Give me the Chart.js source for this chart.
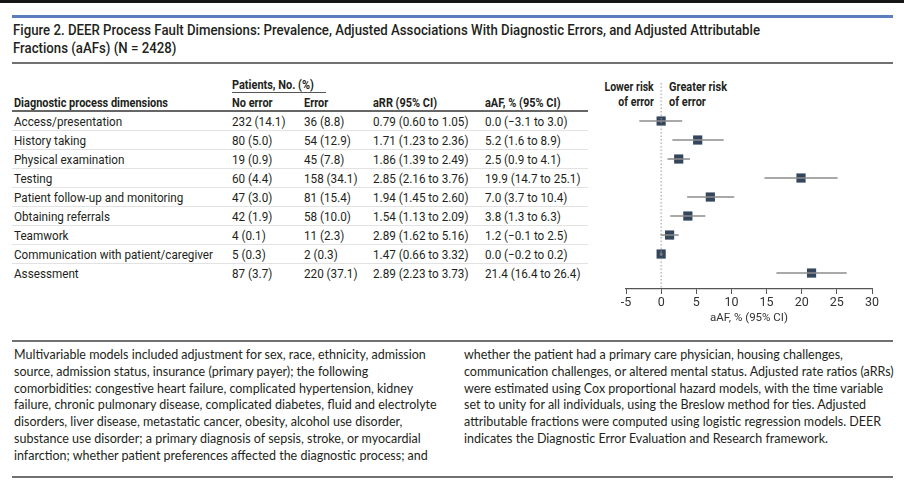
<!DOCTYPE html>
<html lang="en">
<head>
<meta charset="UTF-8">
<title>Figure 2 - DEER Process Fault Dimensions</title>
<script src="https://cdn.jsdelivr.net/npm/chart.js"></script>
<style>
  body { margin:0; width:904px; height:480px; position:relative; background:#fff; overflow:hidden;
         font-family:Roboto,'Liberation Sans',sans-serif; color:#231f20; }
  .abs { position:absolute; white-space:nowrap; }
  .topbar { left:0; top:0; width:904px; height:3px; background:#161616; }
  .rule-blue { left:12px; width:881px; top:15px; height:3px; background:#5b7fbd; }
  .rule { left:12px; width:881px; height:2px; background:#707070; }
  .title { left:13px; top:21px; font-size:15px; font-weight:500; line-height:18px; }
  .bold { font-weight:bold; }
  .tbl { font-size:13.5px; }
  .row { left:12px; width:576px; height:18px; line-height:19px; border-bottom:1px solid #e2e2e2; }
  .row span, .hdr span { position:absolute; top:0; }
  .risk { font-size:13px; font-weight:bold; line-height:15px; }
  .note { font-family:Lato,sans-serif; font-size:12.5px; line-height:16.8px; color:#231f20; }
  #plot { position:absolute; left:590px; top:70px; width:300px; height:260px; }
</style>
</head>
<body>
  <div class="abs topbar"></div>
  <div class="abs rule-blue"></div>
  <div class="abs title" id="title">Figure 2. DEER Process Fault Dimensions: Prevalence, Adjusted Associations With Diagnostic Errors, and Adjusted Attributable<br>Fractions (aAFs) (N = 2428)</div>
  <div class="abs rule" style="top:62px;"></div>

  <div id="table"></div>

  <div class="abs risk" id="lower" style="right:250px; top:79px; text-align:right;">Lower risk<br>of error</div>
  <div class="abs risk" id="greater" style="left:669px; top:79px;">Greater risk<br>of error</div>

  <div id="plot"><canvas id="forest"></canvas></div>

  <div class="abs rule" style="top:340px;"></div>
  <div class="abs note" style="left:14px; top:347px;">Multivariable models included adjustment for sex, race, ethnicity, admission<br>source, admission status, insurance (primary payer); the following<br>comorbidities: congestive heart failure, complicated hypertension, kidney<br>failure, chronic pulmonary disease, complicated diabetes, fluid and electrolyte<br>disorders, liver disease, metastatic cancer, obesity, alcohol use disorder,<br>substance use disorder; a primary diagnosis of sepsis, stroke, or myocardial<br>infarction; whether patient preferences affected the diagnostic process; and</div>
  <div class="abs note" style="left:464px; top:347px;">whether the patient had a primary care physician, housing challenges,<br>communication challenges, or altered mental status. Adjusted rate ratios (aRRs)<br>were estimated using Cox proportional hazard models, with the time variable<br>set to unity for all individuals, using the Breslow method for ties. Adjusted<br>attributable fractions were computed using logistic regression models. DEER<br>indicates the Diagnostic Error Evaluation and Research framework.</div>
  <div class="abs rule" style="top:476px;"></div>

<script>
// data
const dimensions = ['Access/presentation', 'History taking', 'Physical examination', 'Testing',
  'Patient follow-up and monitoring', 'Obtaining referrals', 'Teamwork',
  'Communication with patient/caregiver', 'Assessment'];
const noErrorN   = [232, 80, 19, 60, 47, 42, 4, 5, 87];
const noErrorPct = [14.1, 5.0, 0.9, 4.4, 3.0, 1.9, 0.1, 0.3, 3.7];
const errorN     = [36, 54, 45, 158, 81, 58, 11, 2, 220];
const errorPct   = [8.8, 12.9, 7.8, 34.1, 15.4, 10.0, 2.3, 0.3, 37.1];
const aRR   = [0.79, 1.71, 1.86, 2.85, 1.94, 1.54, 2.89, 1.47, 2.89];
const aRRLo = [0.60, 1.23, 1.39, 2.16, 1.45, 1.13, 1.62, 0.66, 2.23];
const aRRHi = [1.05, 2.36, 2.49, 3.76, 2.60, 2.09, 5.16, 3.32, 3.73];
const aAF   = [0.0, 5.2, 2.5, 19.9, 7.0, 3.8, 1.2, 0.0, 21.4];
const aAFLo = [-3.1, 1.6, 0.9, 14.7, 3.7, 1.3, -0.1, -0.2, 16.4];
const aAFHi = [3.0, 8.9, 4.1, 25.1, 10.4, 6.3, 2.5, 0.2, 26.4];
const xTicks = [-5, 0, 5, 10, 15, 20, 25, 30];

const cols = [14, 232, 304, 373, 485];
const fmt = (v, d) => v.toFixed(d).replace('-', '\u2212');

// the printed figure uses a condensed face; squeeze text horizontally to its widths
function squeeze(el, scale, origin) {
  el.style.display = 'inline-block';
  el.style.transformOrigin = origin || '0 0';
  el.style.transform = 'scaleX(' + scale + ')';
}
const widthOf = el => el.getBoundingClientRect().width;

// table text
let html = '<div class="abs tbl bold hdr" style="left:0; top:75px; line-height:18px;"><span class="h" style="left:232px">Patients, No. (%)</span></div>' +
  '<div class="abs" style="left:232px; top:92px; width:94px; height:1px; background:#555;"></div>' +
  '<div class="abs tbl bold hdr" style="left:0; top:93px; width:600px; height:19px; line-height:19px;">' +
  ['Diagnostic process dimensions', 'No error', 'Error', 'aRR (95% CI)', 'aAF, % (95% CI)']
    .map((t, j) => '<span class="h" style="left:' + cols[j] + 'px">' + t + '</span>').join('') + '</div>' +
  '<div class="abs" style="left:12px; top:110px; width:576px; height:2px; background:#666;"></div>';
dimensions.forEach((d, i) => {
  const cells = [d,
    noErrorN[i] + ' (' + fmt(noErrorPct[i], 1) + ')',
    errorN[i] + ' (' + fmt(errorPct[i], 1) + ')',
    fmt(aRR[i], 2) + ' (' + fmt(aRRLo[i], 2) + ' to ' + fmt(aRRHi[i], 2) + ')',
    fmt(aAF[i], 1) + ' (' + fmt(aAFLo[i], 1) + ' to ' + fmt(aAFHi[i], 1) + ')'];
  const last = i === dimensions.length - 1 ? 'border-bottom:none;' : '';
  html += '<div class="abs tbl row" style="top:' + (112 + 19 * i) + 'px;' + last + '">' +
    cells.map((t, j) => '<span class="c" style="left:' + (cols[j] - 12) + 'px">' + t + '</span>').join('') + '</div>';
});
document.getElementById('table').innerHTML = html;

const title = document.getElementById('title');
squeeze(title, 747 / widthOf(title));
const bodyCells = [...document.querySelectorAll('#table .c')];
const bodyScale = 199 / widthOf(bodyCells[7 * 5]);
bodyCells.forEach(el => squeeze(el, bodyScale, '0 50%'));
const headCells = [...document.querySelectorAll('#table .h')];
const headScale = 154 / widthOf(headCells[1]);
headCells.forEach(el => squeeze(el, headScale, '0 50%'));
const lower = document.getElementById('lower'), greater = document.getElementById('greater');
squeeze(greater, 58 / widthOf(greater));
squeeze(lower, headScale, '100% 0');

// forest plot
const yTop = -2, yBottom = 8.84;
const ciSets = dimensions.map((d, i) => ({
  data: [{ x: aAFLo[i], y: i }, { x: aAFHi[i], y: i }],
  showLine: true, borderColor: '#8c8c8c', borderWidth: 1.5, pointRadius: 0
}));

new Chart(document.getElementById('forest'), {
  type: 'scatter',
  data: {
    datasets: [
      { data: [{ x: 0, y: yTop }, { x: 0, y: yBottom }], showLine: true, borderColor: '#9a9a9a',
        borderWidth: 1, borderDash: [1.5, 2], pointRadius: 0 },
      ...ciSets,
      { data: aAF.map((v, i) => ({ x: v, y: i })), pointStyle: 'rect', pointRadius: 6.5,
        backgroundColor: '#34465b', borderColor: '#34465b', borderWidth: 0 }
    ]
  },
  options: {
    responsive: true,
    maintainAspectRatio: false,
    animation: false,
    layout: { padding: { left: 36, right: 18, top: 13, bottom: 0 } },
    plugins: { legend: { display: false }, tooltip: { enabled: false } },
    scales: {
      x: {
        type: 'linear', min: -5, max: 30,
        afterBuildTicks: s => { s.ticks = xTicks.map(v => ({ value: v })); },
        afterFit: s => { s.height = 41; },
        ticks: { padding: 1, color: '#333', font: { family: 'Roboto, sans-serif', size: 12.5 } },
        grid: { drawOnChartArea: false, drawTicks: true, tickLength: 5, color: '#555' },
        border: { display: true, color: '#555', width: 1.2 },
        title: { display: true, text: 'aAF, % (95% CI)', color: '#333', padding: { top: 2, bottom: 5 },
                 font: { family: 'Roboto, sans-serif', size: 11.5 } }
      },
      y: { type: 'linear', reverse: true, min: yTop, max: yBottom, display: false }
    }
  }
});
</script>
</body>
</html>
